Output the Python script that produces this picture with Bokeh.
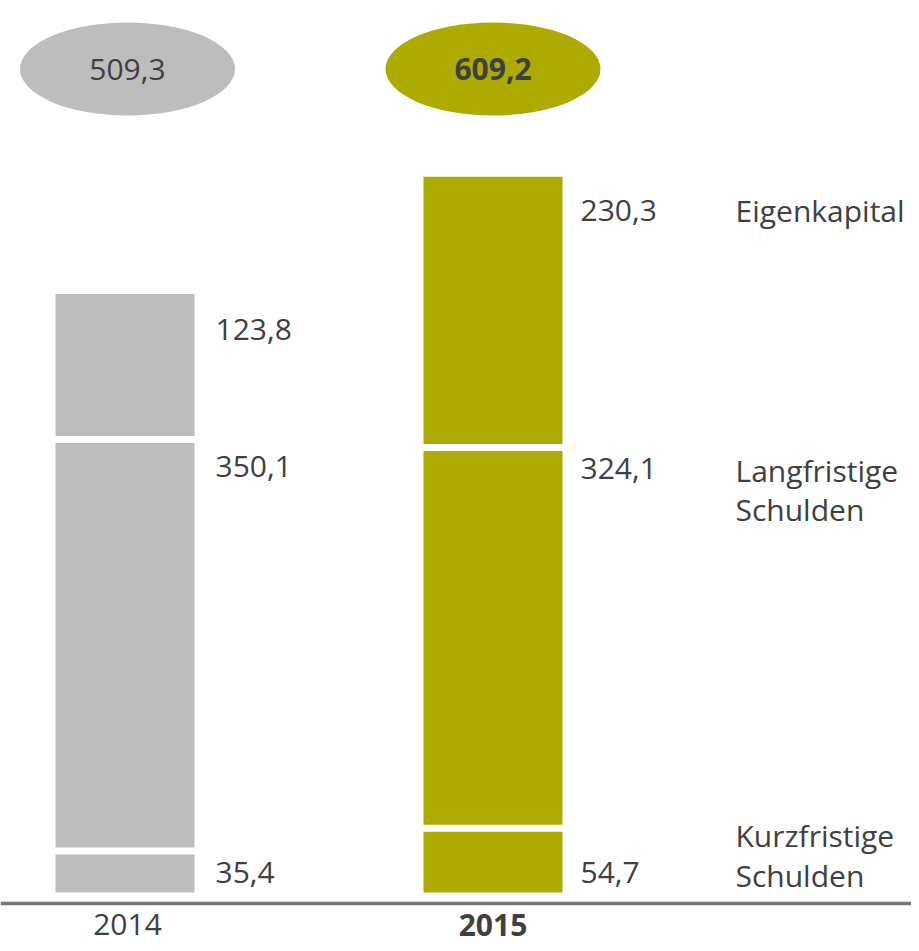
from bokeh.plotting import figure
from bokeh.models import Range1d, Span
from bokeh.core.properties import value
from bokeh.embed import file_html
from bokeh.resources import INLINE

# ---- data ----
years = ["2014", "2015"]
totals = ["509,3", "609,2"]
kurzfristige = [35.4, 54.7]
langfristige = [350.1, 324.1]
eigenkapital = [123.8, 230.3]
value_labels_2014 = ["35,4", "350,1", "123,8"]
value_labels_2015 = ["54,7", "324,1", "230,3"]
categories = [["Kurzfristige", "Schulden"], ["Langfristige", "Schulden"], ["Eigenkapital"]]

# ---- styles / layout ----
GREY = "#BDBDBD"
OLIVE = "#ADAA00"
TEXT = "#404040"
FONT = "Open Sans"
FS = "30px"
colors = [GREY, OLIVE]
xc = [124.5, 492.5]
bar_w = 139
PX = 1.175          # pixels per unit
BASE = 892          # image y of baseline
W, H = 911, 943

def vy(img_y):
    return (BASE - img_y) / PX

p = figure(width=W, height=H, output_backend="svg", toolbar_location=None,
           x_range=Range1d(0, W), y_range=Range1d(vy(H), vy(0)),
           min_border=0, outline_line_color=None)
p.axis.visible = False
p.grid.visible = False
p.background_fill_color = "white"

series = [kurzfristige, langfristige, eigenkapital]
for i in range(2):
    bottom = 0.0
    bounds = []
    for s in series:
        top = bottom + s[i]
        p.vbar(x=[xc[i]], bottom=[bottom], top=[top], width=bar_w,
               fill_color=colors[i], line_color=None)
        bounds.append(top)
        bottom = top
    # white separators between segments
    p.rect(x=[xc[i]] * 2, y=bounds[:2], width=bar_w + 4, height=7,
           height_units="screen", fill_color="white", line_color=None)

# value labels
label_x = [215, 580]
offsets = {0: [22, 27, 35], 1: [44, 21, 34]}
labels = [value_labels_2014, value_labels_2015]
for i in range(2):
    cum = 0.0
    tops = []
    for s in series:
        cum += s[i]
        tops.append(cum)
    for k in range(3):
        p.text(x=[label_x[i]], y=[tops[k]], text=[labels[i][k]], y_offset=offsets[i][k],
               text_font=value(FONT), text_font_size=FS, text_color=TEXT,
               text_baseline="middle", text_align="left")

# category labels (aligned with the 2015 segments)
cum15 = []
c = 0.0
for s in series:
    c += s[1]
    cum15.append(c)
cat_offsets = [[7, 47], [23, 62], [34]]
for k in range(3):
    for j, line in enumerate(categories[k]):
        p.text(x=[735], y=[cum15[k]], text=[line], y_offset=cat_offsets[k][j],
               text_font=value(FONT), text_font_size=FS, text_color=TEXT,
               text_baseline="middle", text_align="left")

# total ellipses
ell_y = vy(68.5)
p.ellipse(x=[127, 492.5], y=[ell_y, ell_y], width=215, height=93,
          width_units="screen", height_units="screen",
          fill_color=colors, line_color=None)
p.text(x=[127], y=[ell_y], text=[totals[0]], text_font=value(FONT), text_font_size=FS,
       text_color=TEXT, text_align="center", text_baseline="middle")
p.text(x=[492.5], y=[ell_y], text=[totals[1]], text_font=value(FONT), text_font_size=FS,
       text_color=TEXT, text_font_style="bold", text_align="center", text_baseline="middle")

# baseline axis line
p.add_layout(Span(location=vy(903), dimension="width", line_color="#767676", line_width=3.5))

# year labels
yy = vy(924)
p.text(x=[127], y=[yy], text=[years[0]], text_font=value(FONT), text_font_size=FS,
       text_color=TEXT, text_align="center", text_baseline="middle")
p.text(x=[492.5], y=[yy], text=[years[1]], text_font=value(FONT), text_font_size=FS,
       text_color=TEXT, text_font_style="bold", text_align="center", text_baseline="middle")

open("out.html", "w").write(file_html(p, INLINE))
